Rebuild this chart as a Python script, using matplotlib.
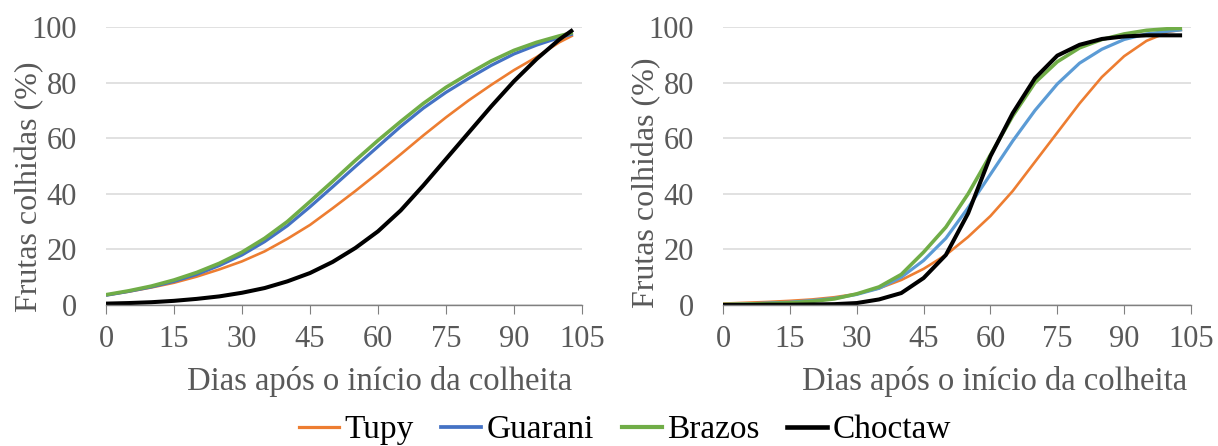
import matplotlib
matplotlib.use("Agg")
import matplotlib.pyplot as plt
from matplotlib.lines import Line2D

plt.rcParams["font.family"] = ["Liberation Serif", "DejaVu Serif"]

# --- data ------------------------------------------------------------------
dias = [0, 5, 10, 15, 20, 25, 30, 35, 40, 45, 50, 55, 60, 65, 70, 75, 80, 85, 90, 95, 100, 103]

# left panel
tupy_a = [3.5, 4.8, 6.3, 8.0, 10.2, 12.8, 15.7, 19.3, 23.8, 28.8, 34.8, 41.0, 47.5, 54.2, 61.0, 67.5, 73.6, 79.2, 84.5, 89.2, 94.5, 97.0]
guarani_a = [3.5, 4.9, 6.5, 8.5, 11.0, 14.2, 18.0, 22.8, 28.5, 35.3, 42.5, 49.8, 57.0, 64.2, 70.8, 76.5, 81.5, 86.2, 90.3, 93.5, 96.2, 97.5]
brazos_a = [3.7, 5.1, 6.8, 9.0, 11.7, 15.0, 19.0, 24.0, 30.0, 37.2, 44.5, 52.0, 59.2, 66.0, 72.5, 78.3, 83.2, 87.8, 91.6, 94.5, 96.8, 98.0]
choctaw_a = [0.5, 0.7, 1.0, 1.5, 2.2, 3.1, 4.4, 6.1, 8.5, 11.5, 15.5, 20.5, 26.5, 34.0, 43.0, 52.5, 62.0, 71.5, 80.5, 88.5, 95.5, 99.0]

# right panel
tupy_b = [0.5, 0.8, 1.1, 1.5, 2.0, 2.8, 4.0, 6.0, 9.0, 13.0, 18.0, 24.5, 32.0, 41.0, 51.5, 62.0, 72.5, 82.0, 89.5, 95.0, 98.3, 99.0]
guarani_b = [0.2, 0.4, 0.7, 1.0, 1.6, 2.4, 3.8, 6.0, 10.0, 16.0, 24.0, 35.0, 47.0, 59.0, 70.0, 79.5, 87.0, 92.0, 95.5, 97.5, 98.5, 99.0]
brazos_b = [0.2, 0.3, 0.5, 0.8, 1.3, 2.2, 4.0, 6.5, 11.0, 19.0, 28.0, 40.0, 54.0, 68.0, 80.0, 87.5, 92.5, 95.5, 97.5, 98.8, 99.4, 99.5]
choctaw_b = [0.0, 0.0, 0.1, 0.1, 0.2, 0.3, 0.7, 2.0, 4.3, 9.7, 18.0, 33.0, 53.5, 69.0, 81.6, 89.7, 93.6, 95.7, 96.6, 97.0, 97.0, 97.0]

names = ["Tupy", "Guarani", "Brazos", "Choctaw"]
left_series = [tupy_a, guarani_a, brazos_a, choctaw_a]
right_series = [tupy_b, guarani_b, brazos_b, choctaw_b]

left_colors = ["#ED7D31", "#4472C4", "#70AD47", "#000000"]
right_colors = ["#ED7D31", "#5B9BD5", "#70AD47", "#000000"]
widths = [1.9, 2.3, 2.6, 2.9]

W, H = 1218, 446
fig = plt.figure(figsize=(W / 100, H / 100), dpi=100)
ax_l = fig.add_axes([106 / W, 1 - 305 / H, 476 / W, 278 / H])
ax_r = fig.add_axes([723 / W, 1 - 305 / H, 468 / W, 278 / H])

# (axes, series, colours, ylabel x, ylabel y, xlabel x)
panels = [
    (ax_l, left_series, left_colors, -0.130, 0.424, 0.574),
    (ax_r, right_series, right_colors, -0.1325, 0.44, 0.58),
]

for ax, series, colors, ylx, yly, xlx in panels:
    for vals, c, lw in zip(series, colors, widths):
        ax.plot(dias, vals, color=c, lw=lw, solid_capstyle="butt")
    ax.set_xlim(0, 105)
    ax.set_ylim(0, 100)
    ax.set_xticks(range(0, 106, 15))
    ax.set_yticks(range(0, 101, 20))
    ax.grid(axis="y", color="#D9D9D9", lw=1.1)
    ax.set_axisbelow(True)
    for s in ("top", "right", "left"):
        ax.spines[s].set_visible(False)
    ax.spines["bottom"].set_color("#808080")
    ax.spines["bottom"].set_linewidth(1.0)
    ax.tick_params(axis="x", direction="out", length=6.5, color="#808080",
                   labelsize=22, pad=8, labelcolor="#595959")
    ax.tick_params(axis="y", length=0, labelsize=22, pad=21, labelcolor="#595959")
    ax.set_ylabel("Frutas colhidas (%)", fontsize=23, color="#595959")
    ax.yaxis.set_label_coords(ylx, yly)
    ax.set_xlabel("Dias após o início da colheita", fontsize=23.5, color="#595959")
    ax.xaxis.set_label_coords(xlx, -0.22)

handles = [Line2D([0], [0], color=c, lw=lw + 0.4) for c, lw in zip(left_colors, widths)]
fig.legend(handles, names, loc="center", ncol=4, frameon=False, fontsize=24,
           bbox_to_anchor=(0.513, 0.036), handlelength=1.2, handletextpad=0.15,
           columnspacing=0.84)

fig.savefig("out.png", dpi=100)
